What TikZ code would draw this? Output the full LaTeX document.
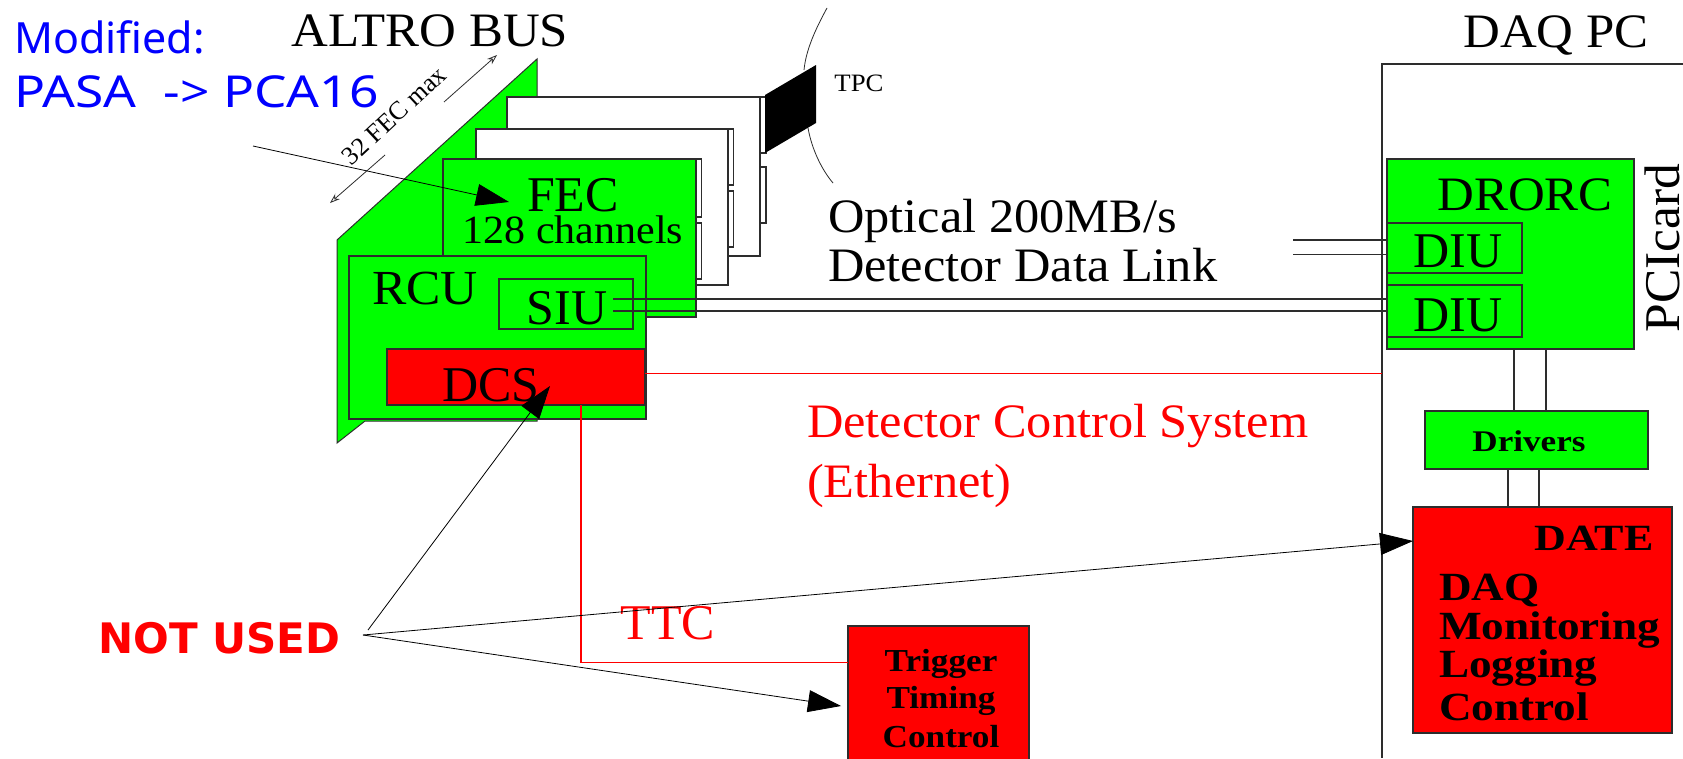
\documentclass[tikz,border=0pt]{standalone}
\usepackage{graphicx}
\usepackage{fontspec}
\setmainfont{Liberation Serif}
\newfontfamily\bluefam{Noto Sans}
\newfontfamily\notfam{DejaVu Sans}
\usetikzlibrary{arrows.meta}
\definecolor{gr}{RGB}{0,255,0}
\definecolor{rd}{RGB}{255,0,0}
\definecolor{ln}{RGB}{45,45,45}
\tikzset{
 bx/.style={draw=ln,line width=1.6pt,anchor=north west,inner sep=0pt,outer sep=0pt},
 grnbox/.style={bx,fill=gr},
 redbox/.style={bx,fill=rd},
 whtbox/.style={bx,fill=white},
 lab/.style={inner sep=0pt,anchor=base,text=black},
 wire/.style={line width=1.5pt,draw=ln},
 rwire/.style={line width=1.2pt,draw=rd},
 arr/.style={line width=0.8pt,draw=black,-{Triangle[length=33pt,width=22pt]}},
}
\newcommand{\rectnode}[6]{\node[#2,minimum width=#5pt-#3pt,minimum height=#6pt-#4pt] (#1) at (#3,#4) {};}
\newcommand{\fs}[1]{\fontsize{#1}{#1}\selectfont}
\newcommand{\sx}[2]{\scalebox{#1}[1]{#2}}
\begin{document}
\begin{tikzpicture}[x=1pt,y=-1pt]
\useasboundingbox (0,0) rectangle (1683,758);
\fill[white] (0,0) rectangle (1683,758);
% back plane
\fill[gr,draw=ln,line width=1pt] (337,240) -- (537,59) -- (537,100) -- (537,421) -- (365,421) -- (337,443) -- cycle;
% white cards
\rectnode{tabAa}{whtbox}{760}{97}{766}{153}
\rectnode{tabAb}{whtbox}{760}{167}{766}{223}
\rectnode{cardA}{whtbox}{507}{97}{760}{256}
\rectnode{tabBa}{whtbox}{728}{129}{733.5}{185}
\rectnode{tabBb}{whtbox}{728}{191}{733.5}{247}
\rectnode{cardB}{whtbox}{476}{129}{728}{285}
\rectnode{tabCa}{whtbox}{696}{159}{701.5}{217}
\rectnode{tabCb}{whtbox}{696}{223}{701.5}{279}
\rectnode{fec}{grnbox}{443}{159}{696}{317}
\rectnode{rcu}{grnbox}{349}{256}{646}{419}
\rectnode{siu}{grnbox}{499}{279}{633}{329}
\rectnode{dcs}{redbox}{387}{349}{645}{405}
% TPC
\fill[black] (765,95) -- (816,65) -- (816,123) -- (765,153) -- cycle;
\draw[line width=0.8pt,draw=ln] (827,8) .. controls (815,30) and (806,50) .. (804,70);
\draw[line width=0.8pt,draw=ln] (808,128) .. controls (812,150) and (822,170) .. (833,183);
% PC box
\draw[line width=1.6pt,draw=ln] (1683,64) -- (1382,64) -- (1382,758);
\rectnode{drorc}{grnbox}{1387}{159}{1634}{349}
\rectnode{diuA}{grnbox}{1387}{223}{1522}{273}
\rectnode{diuB}{grnbox}{1387}{285}{1522}{337}
\rectnode{drivers}{grnbox}{1425}{411}{1648}{469}
\rectnode{date}{redbox}{1413}{507}{1672}{733}
\rectnode{ttc}{redbox}{848}{626}{1029}{760}
% wires
\coordinate (sa) at (613,299); \coordinate (sb) at (613,311);
\coordinate (oa) at (1293,240); \coordinate (ob) at (1293,254.6);
\draw[wire] (sa) -- (diuB.west |- sa);
\draw[wire] (sb) -- (diuB.west |- sb);
\draw[wire] (oa) -- (diuA.west |- oa);
\draw[wire] (ob) -- (diuA.west |- ob);
\draw[wire,line width=2pt] (1514,349) -- (1514,411);
\draw[wire,line width=2pt] (1546,349) -- (1546,411);
\draw[wire,line width=2pt] (1508,469) -- (1508,507);
\draw[wire,line width=2pt] (1539,469) -- (1539,507);
\draw[rwire] (645,373.5) -- (1382,373.5);
\draw[rwire] (581,405) -- (581,662.5) -- (848,662.5);
% bus arrows
\draw[line width=0.8pt,draw=ln,{Stealth[length=10pt,width=7pt,open]}-] (330,203) -- (385,155);
\draw[line width=0.8pt,draw=ln,-{Stealth[length=10pt,width=7pt,open]}] (444,102) -- (497,55);
% text
\node[lab,font=\fs{48}] (altro) at (430,46) {\sx{1.06}{ALTRO BUS}};
\node[lab,font=\fs{48}] (daq) at (1556,47) {\sx{1.06}{DAQ PC}};
\node[lab,font=\fs{25}] (tpc) at (859,91) {\sx{1.07}{TPC}};
\node[lab,rotate=43,font=\fs{26}] (fecmax) at (400,122) {32 FEC max};
\node[lab,font=\fs{50}] (fect) at (573,211) {FEC};
\node[lab,font=\fs{40}] (ch) at (573,243) {\sx{1.05}{128 channels}};
\node[lab,font=\fs{49}] (rcut) at (425,304) {\sx{1.05}{RCU}};
\node[lab,font=\fs{50}] (siut) at (567,324) {SIU};
\node[lab,font=\fs{50}] (dcst) at (491,401) {DCS};
\node[lab,anchor=base west,font=\fs{48}] (opt) at (828,232) {\sx{1.05}{Optical 200MB/s}};
\node[lab,anchor=base west,font=\fs{48}] (ddl) at (828,281) {\sx{1.05}{Detector Data Link}};
\node[lab,anchor=base west,text=rd,font=\fs{48}] (dcsys) at (807,437) {\sx{1.05}{Detector Control System}};
\node[lab,anchor=base west,text=rd,font=\fs{48}] (eth) at (807,497) {\sx{1.05}{(Ethernet)}};
\node[lab,text=rd,font=\fs{50}] (ttct) at (668,639) {TTC};
\node[lab,font=\fs{48}] (dr) at (1525,210) {\sx{1.06}{DRORC}};
\node[lab,font=\fs{50}] (d1) at (1458,267) {DIU};
\node[lab,font=\fs{50}] (d2) at (1458,331) {DIU};
\node[lab,rotate=90,font=\fs{50}] (pci) at (1679,248) {\sx{1.03}{PCIcard}};
\node[lab,font=\bfseries\fs{30}] (drv) at (1529,451) {\sx{1.17}{Drivers}};
\node[lab,font=\bfseries\fs{37}] (dt) at (1594,550) {\sx{1.19}{DATE}};
\node[lab,anchor=base west,font=\bfseries\fs{40}] (da) at (1439,600) {\sx{1.13}{DAQ}};
\node[lab,anchor=base west,font=\bfseries\fs{40}] (mo) at (1439,639) {\sx{1.13}{Monitoring}};
\node[lab,anchor=base west,font=\bfseries\fs{40}] (lo) at (1439,677) {\sx{1.13}{Logging}};
\node[lab,anchor=base west,font=\bfseries\fs{40}] (co) at (1439,720) {\sx{1.13}{Control}};
\node[lab,font=\bfseries\fs{32}] (t1) at (941,671) {\sx{1.1}{Trigger}};
\node[lab,font=\bfseries\fs{32}] (t2) at (941,708) {\sx{1.1}{Timing}};
\node[lab,font=\bfseries\fs{32}] (t3) at (941,747) {\sx{1.1}{Control}};
\node[lab,anchor=base west,text=blue,font=\bluefam\fs{43}] (m1) at (14,53) {Modified:};
\node[lab,anchor=base west,text=blue,font=\bluefam\fs{44}] (m2) at (14,107) {\sx{1.17}{PASA\ \ -> PCA16}};
\node[lab,anchor=base west,text=rd,font=\notfam\bfseries\fs{42}] (nused) at (98,653) {NOT USED};
% pointers
\coordinate (pa) at (253,146);
\coordinate (pn) at (363,635);
\coordinate (pd) at (368,630);
\draw[arr] (pa) -- (509,202);
\draw[arr] (pd) -- (550,386);
\draw[arr] (pn) -- (1413,541);
\draw[arr] (pn) -- (841,706);
\end{tikzpicture}
\end{document}
